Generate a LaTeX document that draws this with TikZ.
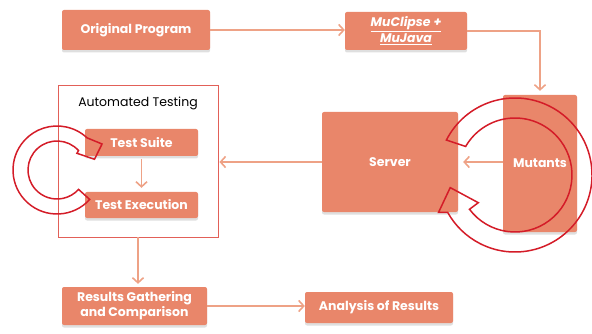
\documentclass[tikz,border=0pt]{standalone}
\usepackage{fontspec}
\setmainfont{Poppins}
\usetikzlibrary{arrows.meta,shadows}
\definecolor{boxc}{RGB}{233,134,106}
\definecolor{arrc}{RGB}{238,162,134}
\definecolor{ringc}{RGB}{212,28,40}
\definecolor{framec}{RGB}{226,96,88}
\begin{document}
\begin{tikzpicture}[x=1pt,y=-1pt,
  box/.style={fill=boxc, rounded corners=2pt, text=white, align=center, inner sep=0pt,
    font=\bfseries\fontsize{12.5}{15}\selectfont,
    drop shadow={shadow xshift=0pt, shadow yshift=-2.5pt, opacity=0.25, fill=gray}},
  flow/.style={draw=arrc, line width=1.6pt, -{Straight Barb[length=5pt,width=11pt]}},
  ring/.style={draw=ringc, line width=1.5pt, line join=miter},
  frame/.style={draw=framec, line width=0.9pt, inner sep=0pt}]
\useasboundingbox (0,0) rectangle (592,334);

\node[frame, minimum width=160pt, minimum height=152pt] (auto) at (138,161) {};
\node[font=\fontsize{12.5}{14}\selectfont, text=black] (title) at (138,103) {Automated Testing};

\node[box, minimum width=148pt, minimum height=40pt] (orig) at (136,30) {Original Program};
\node[box, minimum width=122pt, minimum height=38pt] (mc) at (406,31)
  {\itshape\underline{MuClipse +}\\[1pt]\itshape\underline{MuJava}};
\node[box, minimum width=74pt, minimum height=137pt] (mut) at (540,163.5) {Mutants};
\node[box, minimum width=136pt, minimum height=100pt] (server) at (390,162) {Server};
\node[box, minimum width=113pt, minimum height=27pt] (ts) at (141.5,142.5) {Test Suite};
\node[box, minimum width=113pt, minimum height=26pt] (te) at (141.5,205) {Test Execution};
\node[box, minimum width=145pt, minimum height=38pt] (res) at (134.5,306)
  {Results Gathering\\and Comparison};
\node[box, minimum width=148pt, minimum height=31pt] (ana) at (379,307.5) {Analysis of Results};

\draw[flow] (orig.east) -- (orig.east -| mc.west);
\draw[flow, shorten >=4pt] (mc.east) -| (mut.north);
\draw[flow, shorten >=5pt] (mut.west |- server.west) -- (server.west -| server.east);
\draw[flow, shorten >=1pt] (server.west) -- (server.west -| auto.east);
\draw[flow, shorten >=4pt, shorten <=3pt] (ts.south) -- (te.north);
\draw[flow, shorten >=3pt] (auto.south) -- (auto.south |- res.north);
\draw[flow] (res.east) -- (res.east -| ana.west);

\coordinate (C) at (515,175);
\coordinate (L) at (57,170);
\draw[ring] ([shift={(-153:77)}]C) arc[start angle=-153, end angle=151, radius=77]
  -- ([shift={(154:85)}]C) -- ([shift={(169:66)}]C) -- ([shift={(143:46)}]C)
  -- ([shift={(143:57)}]C) arc[start angle=143, end angle=-150, radius=57] -- cycle;
\draw[ring] ([shift={(42:44)}]L) arc[start angle=42, end angle=313, radius=44]
  -- ([shift={(330:52)}]L) -- ([shift={(344:39)}]L) -- ([shift={(320:26)}]L)
  -- ([shift={(318:29)}]L) arc[start angle=318, end angle=42, radius=29] -- cycle;
\end{tikzpicture}
\end{document}
